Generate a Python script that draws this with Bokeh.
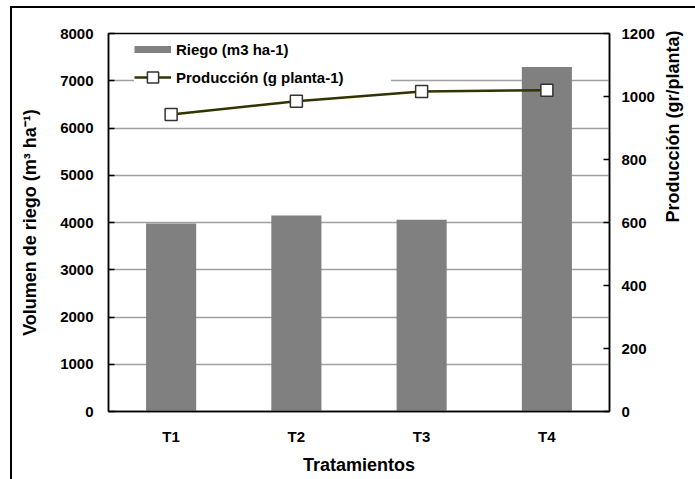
import math
from bokeh.plotting import figure
from bokeh.models import (Range1d, LinearAxis, FixedTicker, Legend, LegendItem,
                          ColumnDataSource, FactorRange)
from bokeh.embed import file_html
from bokeh.resources import INLINE

# ---- data ----
tratamientos = ["T1", "T2", "T3", "T4"]
riego = [3980, 4150, 4060, 7290]          # m3 ha-1 (left axis)
produccion = [943, 985, 1016, 1020]       # g planta-1 (right axis)
left_ticks = [0, 1000, 2000, 3000, 4000, 5000, 6000, 7000, 8000]
right_ticks = [0, 200, 400, 600, 800, 1000, 1200]

FONT = "Liberation Sans"

p = figure(width=683, height=471,
           x_range=FactorRange(*tratamientos),
           y_range=Range1d(0, 8000),
           output_backend="svg", toolbar_location=None,
           min_border_left=96, min_border_right=83,
           min_border_top=25, min_border_bottom=68)
p.margin = (8, 0, 0, 12)
p.styles = {"box-shadow": "0px 0px 0px 2px #000000"}
p.background_fill_color = "white"
p.border_fill_color = "white"
p.outline_line_color = "black"
p.outline_line_width = 1.5

p.extra_y_ranges = {"prod": Range1d(0, 1200), "hidden": Range1d(-2, -1)}

src = ColumnDataSource(dict(x=tratamientos, riego=riego, prod=produccion))

bars = p.vbar(x="x", top="riego", width=0.4, source=src,
              fill_color="#808080", line_color=None)
line = p.line(x="x", y="prod", source=src, y_range_name="prod",
              line_color="#333300", line_width=2.5)
marks = p.scatter(x="x", y="prod", source=src, y_range_name="prod",
                  marker="square", size=12, fill_color="white",
                  line_color="#333333", line_width=1.5)

# legend proxy for the thin gray bar swatch (kept out of view)
proxy = p.line(x="x", y="riego", source=src, y_range_name="hidden",
               line_color="#808080", line_width=7)

# ---- axes ----
yax = p.yaxis[0]
yax.ticker = FixedTicker(ticks=left_ticks)
yax.axis_label = "Volumen de riego (m³ ha⁻¹)"

right = LinearAxis(y_range_name="prod", ticker=FixedTicker(ticks=right_ticks),
                   axis_label="Producción (gr/planta)")
p.add_layout(right, "right")

for ax in (yax, right):
    ax.major_tick_in = 6
    ax.major_tick_out = 0
    ax.minor_tick_in = 0
    ax.minor_tick_out = 0
    ax.major_tick_line_color = "black"
    ax.major_tick_line_width = 1.5
    ax.axis_line_color = "black"
    ax.axis_line_width = 1.5
    ax.major_label_text_font = FONT
    ax.major_label_text_font_style = "bold"
    ax.major_label_text_font_size = "15px"
    ax.major_label_text_color = "black"
    ax.axis_label_text_font = FONT
    ax.axis_label_text_font_style = "bold"
    ax.axis_label_text_font_size = "18px"
    ax.axis_label_text_color = "black"

yax.major_label_standoff = 15
yax.axis_label_standoff = 17
right.major_label_standoff = 12
right.axis_label_standoff = 15
right.axis_label_orientation = math.pi / 2

xax = p.xaxis[0]
xax.axis_label = "Tratamientos"
xax.major_tick_line_color = None
xax.minor_tick_line_color = None
xax.axis_line_color = "black"
xax.axis_line_width = 1.5
xax.major_label_text_font = FONT
xax.major_label_text_font_style = "bold"
xax.major_label_text_font_size = "15px"
xax.major_label_text_color = "black"
xax.major_label_standoff = 10
xax.axis_label_text_font = FONT
xax.axis_label_text_font_style = "bold"
xax.axis_label_text_font_size = "18px"
xax.axis_label_text_color = "black"
xax.axis_label_standoff = 7

p.xgrid.grid_line_color = None
p.ygrid.grid_line_color = "#a0a0a0"
p.ygrid.grid_line_width = 1.5

# ---- legend ----
legend = Legend(items=[
    LegendItem(label="Riego (m3 ha-1)", renderers=[proxy]),
    LegendItem(label="Producción (g planta-1)", renderers=[line, marks]),
], location=(26, 320))
legend.glyph_width = 37
legend.glyph_height = 28
legend.label_height = 28
legend.spacing = -5
legend.padding = 2
legend.label_standoff = 5
legend.label_width = 215
legend.border_line_color = None
legend.background_fill_color = "white"
legend.background_fill_alpha = 1.0
legend.label_text_font = FONT
legend.label_text_font_style = "bold"
legend.label_text_font_size = "15px"
legend.label_text_color = "black"
p.add_layout(legend)

open("out.html", "w").write(file_html(p, INLINE))
